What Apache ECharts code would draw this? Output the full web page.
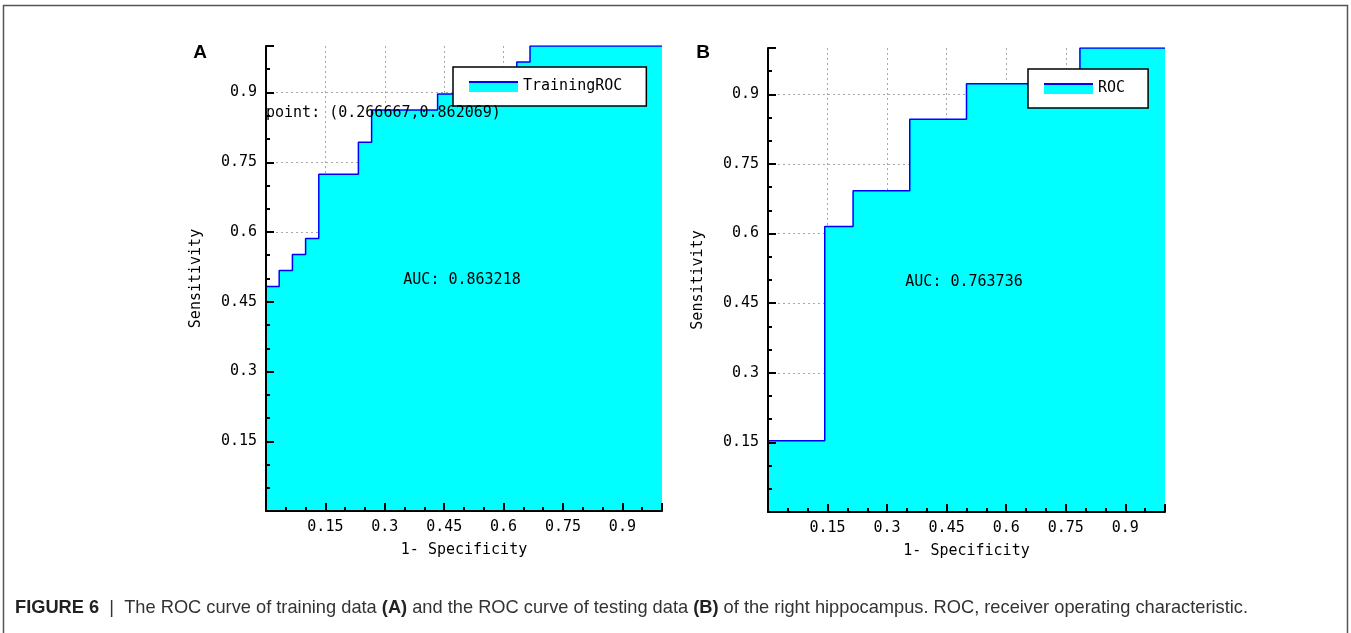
<!DOCTYPE html>
<html>
<head>
<meta charset="utf-8">
<script src="https://cdn.jsdelivr.net/npm/echarts@6/dist/echarts.min.js"></script>
<style>
  html, body { margin: 0; padding: 0; background: #fff; }
  #main { width: 1351px; height: 633px; }
</style>
</head>
<body>
<div id="main"></div>
<script>
// panel A - training ROC, step points (fpr, tpr)
var trainFpr = [0, 0, 0.0333, 0.0667, 0.1, 0.1333, 0.2333, 0.2667, 0.4333, 0.5, 0.6333, 0.6667, 1];
var trainTpr = [0, 0.4828, 0.5172, 0.5517, 0.5862, 0.7241, 0.7931, 0.8621, 0.8966, 0.9310, 0.9655, 1, 1];
// panel B - testing ROC
var testFpr = [0, 0, 0.1429, 0.2143, 0.3571, 0.5, 0.7857, 1];
var testTpr = [0, 0.1538, 0.6154, 0.6923, 0.8462, 0.9231, 1, 1];

var seriesNames = ['TrainingROC', 'ROC'];
var aucLabels = ['AUC: 0.863218', 'AUC: 0.763736'];
var cutPointLabel = 'point: (0.266667,0.862069)';
var caption = 'The ROC curve of training data {b|(A)} and the ROC curve of testing data {b|(B)} of the right hippocampus. ROC, receiver operating characteristic.';

var MONO = '"DejaVu Sans Mono", monospace';

function pairs(xs, ys) {
    var out = [];
    for (var i = 0; i < xs.length; i++) out.push([xs[i], ys[i]]);
    return out;
}

var iconSvg = '<svg xmlns="http://www.w3.org/2000/svg" width="49" height="11">' +
    '<rect x="0" y="2" width="49" height="9" fill="#00ffff"/>' +
    '<rect x="0" y="0" width="49" height="2" fill="#0000ff"/></svg>';
var legendIcon = 'image://data:image/svg+xml;charset=utf-8,' + encodeURIComponent(iconSvg);

var grids = [
    { left: 266, top: 46, width: 396, height: 465 },
    { left: 768, top: 48, width: 397, height: 464 }
];

// two axes per grid: one for the dotted grid (under the fill), one for line/ticks/labels (over it)
var xAxes = [], yAxes = [];
grids.forEach(function (g, i) {
    var base = { gridIndex: i, type: 'value', min: 0, max: 1, interval: 0.15 };
    var gridLines = {
        show: true, showMinLine: false, showMaxLine: false,
        lineStyle: { type: [2, 3], color: '#a8a8a8', width: 1 }
    };
    xAxes.push(Object.assign({}, base, {
        z: 0, axisLine: { show: false }, axisTick: { show: false }, axisLabel: { show: false },
        splitLine: gridLines
    }));
    xAxes.push(Object.assign({}, base, {
        z: 5, position: 'bottom',
        axisLine: { onZero: false, lineStyle: { color: '#000', width: 2 } },
        axisTick: { inside: true, length: 8, lineStyle: { color: '#000', width: 2 } },
        minorTick: { show: true, splitNumber: 3, length: 4, lineStyle: { color: '#000', width: 2 } },
        axisLabel: { showMinLabel: false, showMaxLabel: false, margin: 9, color: '#000', fontFamily: MONO, fontSize: 15 },
        splitLine: { show: false },
        name: '1- Specificity', nameLocation: 'middle', nameGap: 32,
        nameTextStyle: { color: '#000', fontFamily: MONO, fontSize: 15 }
    }));
    yAxes.push(Object.assign({}, base, {
        z: 0, axisLine: { show: false }, axisTick: { show: false }, axisLabel: { show: false },
        splitLine: gridLines
    }));
    yAxes.push(Object.assign({}, base, {
        z: 5, position: 'left',
        axisLine: { onZero: false, lineStyle: { color: '#000', width: 2 } },
        axisTick: { inside: true, length: 8, lineStyle: { color: '#000', width: 2 } },
        minorTick: { show: true, splitNumber: 3, length: 4, lineStyle: { color: '#000', width: 2 } },
        axisLabel: { showMinLabel: false, showMaxLabel: false, margin: 9, color: '#000', fontFamily: MONO, fontSize: 15 },
        splitLine: { show: false },
        name: 'Sensitivity', nameLocation: 'middle', nameGap: 62, nameRotate: 90,
        nameTextStyle: { color: '#000', fontFamily: MONO, fontSize: 15 }
    }));
});

function rocSeries(name, idx, data) {
    return {
        name: name, type: 'line', step: 'end',
        xAxisIndex: idx * 2 + 1, yAxisIndex: idx * 2 + 1,
        data: data, symbol: 'none', z: 2,
        itemStyle: { color: '#0000ff' },
        lineStyle: { color: '#0000ff', width: 1.5 },
        areaStyle: { color: '#00ffff', opacity: 1 }
    };
}

function legendBox(name, left, top, rightPad) {
    return {
        data: [name], left: left, top: top, selectedMode: false,
        icon: legendIcon, itemWidth: 49, itemHeight: 11,
        padding: [12, rightPad, 12, 16],
        backgroundColor: '#fff', borderColor: '#000', borderWidth: 1.5,
        textStyle: { color: '#000', fontFamily: MONO, fontSize: 15, padding: [0, 0, 6, 0] }
    };
}

function txt(x, y, text, font, align, extra) {
    return Object.assign({
        type: 'text', x: x, y: y, z: 10, silent: true,
        style: { text: text, font: font, fill: '#000', textAlign: align || 'left', textVerticalAlign: 'middle' }
    }, extra || {});
}

// condense the caption to the width it has in the figure
var capFont = '19px "Liberation Sans", Arial, sans-serif';
var capBold = 'bold 19px "Liberation Sans", Arial, sans-serif';
var ctx = document.createElement('canvas').getContext('2d');
ctx.font = capBold;
var capW = ctx.measureText('FIGURE 6').width + ctx.measureText('(A)(B)').width;
ctx.font = capFont;
capW += ctx.measureText('  |  ' + caption.replace(/\{b\|/g, '').replace(/\}/g, '').replace('(A)', '').replace('(B)', '')).width;
var capScale = 1233 / capW;

var chart = echarts.init(document.getElementById('main'));
chart.setOption({
    animation: false,
    grid: grids,
    xAxis: xAxes,
    yAxis: yAxes,
    legend: [legendBox(seriesNames[0], 453, 67, 24), legendBox(seriesNames[1], 1028, 69, 23)],
    series: [
        rocSeries(seriesNames[0], 0, pairs(trainFpr, trainTpr)),
        rocSeries(seriesNames[1], 1, pairs(testFpr, testTpr))
    ],
    graphic: [
        { type: 'rect', silent: true, z: 0,
          shape: { x: 3.5, y: 5.5, width: 1344, height: 660 },
          style: { fill: 'none', stroke: '#555', lineWidth: 1.5 } },
        txt(200, 53, 'A', 'bold 19px "Liberation Sans", Arial, sans-serif', 'center'),
        txt(703, 53, 'B', 'bold 19px "Liberation Sans", Arial, sans-serif', 'center'),
        txt(266, 113, cutPointLabel, '15px ' + MONO, 'left'),
        txt(462, 280, aucLabels[0], '15px ' + MONO, 'center'),
        txt(964, 282, aucLabels[1], '15px ' + MONO, 'center'),
        txt(15, 608, '{b|FIGURE 6}  |  ' + caption, capFont, 'left', {
            scaleX: capScale, originX: 0,
            style: {
                text: '{b|FIGURE 6}  |  ' + caption, font: capFont, fill: '#333',
                textAlign: 'left', textVerticalAlign: 'middle',
                rich: { b: { font: capBold, fill: '#222' } }
            }
        })
    ]
});
</script>
</body>
</html>
